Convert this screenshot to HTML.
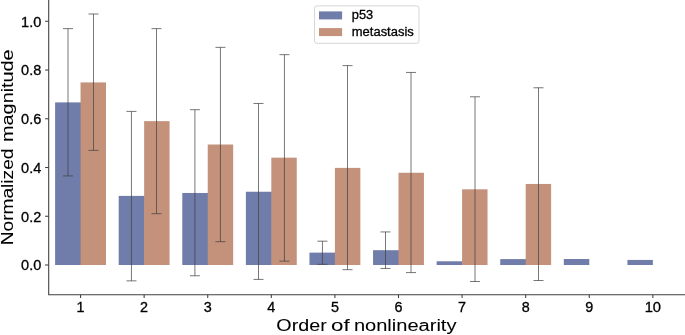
<!DOCTYPE html>
<html><head><meta charset="utf-8"><title>chart</title>
<style>html,body{margin:0;padding:0;background:#fff;}body{width:685px;height:335px;overflow:hidden;}svg{display:block;will-change:transform;}text{font-family:"Liberation Sans",sans-serif;fill:#000;stroke:#000;stroke-width:0.3px;}</style>
</head><body>
<svg width="685" height="335" viewBox="0 0 685 335">
<rect x="0" y="0" width="685" height="335" fill="#ffffff"/>
<g shape-rendering="auto">
<rect x="55.11" y="102.39" width="26.04" height="162.61" fill="#707ca9"/>
<rect x="118.70" y="195.89" width="26.04" height="69.11" fill="#707ca9"/>
<rect x="182.29" y="192.97" width="26.04" height="72.03" fill="#707ca9"/>
<rect x="245.88" y="191.75" width="26.04" height="73.25" fill="#707ca9"/>
<rect x="309.47" y="252.62" width="26.04" height="12.38" fill="#707ca9"/>
<rect x="373.06" y="250.19" width="26.04" height="14.81" fill="#707ca9"/>
<rect x="436.65" y="261.29" width="26.04" height="3.71" fill="#707ca9"/>
<rect x="500.24" y="259.10" width="26.04" height="5.90" fill="#707ca9"/>
<rect x="563.83" y="259.00" width="25.44" height="6.00" fill="#707ca9"/>
<rect x="627.42" y="259.93" width="25.44" height="5.07" fill="#707ca9"/>
<rect x="80.55" y="82.42" width="25.44" height="182.58" fill="#c4917b"/>
<rect x="144.14" y="121.14" width="25.44" height="143.86" fill="#c4917b"/>
<rect x="207.73" y="144.51" width="25.44" height="120.49" fill="#c4917b"/>
<rect x="271.32" y="157.66" width="25.44" height="107.34" fill="#c4917b"/>
<rect x="334.91" y="167.89" width="25.44" height="97.11" fill="#c4917b"/>
<rect x="398.50" y="172.76" width="25.44" height="92.24" fill="#c4917b"/>
<rect x="462.09" y="189.31" width="25.44" height="75.69" fill="#c4917b"/>
<rect x="525.68" y="183.96" width="25.44" height="81.04" fill="#c4917b"/>
</g>
<g stroke="#424242" stroke-width="0.72" fill="none">
<path d="M68.00 175.92V28.61M63.00 175.92H73.00M63.00 28.61H73.00"/>
<path d="M131.45 280.87V111.40M126.45 280.87H136.45M126.45 111.40H136.45"/>
<path d="M194.90 275.76V109.69M189.90 275.76H199.90M189.90 109.69H199.90"/>
<path d="M258.50 279.41V103.48M253.50 279.41H263.50M253.50 103.48H263.50"/>
<path d="M322.45 264.31V241.18M317.45 264.31H327.45M317.45 241.18H327.45"/>
<path d="M385.50 268.45V231.93M380.50 268.45H390.50M380.50 231.93H390.50"/>
<path d="M93.50 150.36V14.00M88.50 150.36H98.50M88.50 14.00H98.50"/>
<path d="M156.50 213.67V28.61M151.50 213.67H161.50M151.50 28.61H161.50"/>
<path d="M220.45 241.67V47.35M215.45 241.67H225.45M215.45 47.35H225.45"/>
<path d="M284.45 261.15V54.66M279.45 261.15H289.45M279.45 54.66H289.45"/>
<path d="M347.50 269.67V65.62M342.50 269.67H352.50M342.50 65.62H352.50"/>
<path d="M411.00 272.59V72.44M406.00 272.59H416.00M406.00 72.44H416.00"/>
<path d="M475.00 281.50V96.79M470.00 281.50H480.00M470.00 96.79H480.00"/>
<path d="M538.50 280.51V87.78M533.50 280.51H543.50M533.50 87.78H543.50"/>
</g>
<g stroke="#404040" stroke-width="1.07" fill="none">
<path d="M48.7 -2V294.7H690"/>
<path d="M80.55 294.7V298.1"/>
<path d="M144.14 294.7V298.1"/>
<path d="M207.73 294.7V298.1"/>
<path d="M271.32 294.7V298.1"/>
<path d="M334.91 294.7V298.1"/>
<path d="M398.50 294.7V298.1"/>
<path d="M462.09 294.7V298.1"/>
<path d="M525.68 294.7V298.1"/>
<path d="M589.27 294.7V298.1"/>
<path d="M652.86 294.7V298.1"/>
<path d="M45.1 265.00H48.7"/>
<path d="M45.1 216.26H48.7"/>
<path d="M45.1 167.52H48.7"/>
<path d="M45.1 118.78H48.7"/>
<path d="M45.1 70.04H48.7"/>
<path d="M45.1 21.30H48.7"/>
</g>
<rect x="314.5" y="5.9" width="104.5" height="37.4" rx="2.4" ry="2.4" fill="#ffffff" fill-opacity="0.8" stroke="#cccccc" stroke-opacity="0.8" stroke-width="1"/>
<rect x="319.0" y="11.4" width="23.1" height="8.0" fill="#707ca9"/>
<rect x="319.0" y="28.1" width="23.1" height="8.0" fill="#c4917b"/>
<g style="filter:grayscale(1)">
<g font-size="14.0">
<text x="80.55" y="311.8" text-anchor="middle" textLength="8.0" lengthAdjust="spacingAndGlyphs">1</text>
<text x="144.14" y="311.8" text-anchor="middle" textLength="8.0" lengthAdjust="spacingAndGlyphs">2</text>
<text x="207.73" y="311.8" text-anchor="middle" textLength="8.0" lengthAdjust="spacingAndGlyphs">3</text>
<text x="271.32" y="311.8" text-anchor="middle" textLength="8.0" lengthAdjust="spacingAndGlyphs">4</text>
<text x="334.91" y="311.8" text-anchor="middle" textLength="8.0" lengthAdjust="spacingAndGlyphs">5</text>
<text x="398.50" y="311.8" text-anchor="middle" textLength="8.0" lengthAdjust="spacingAndGlyphs">6</text>
<text x="462.09" y="311.8" text-anchor="middle" textLength="8.0" lengthAdjust="spacingAndGlyphs">7</text>
<text x="525.68" y="311.8" text-anchor="middle" textLength="8.0" lengthAdjust="spacingAndGlyphs">8</text>
<text x="589.27" y="311.8" text-anchor="middle" textLength="8.0" lengthAdjust="spacingAndGlyphs">9</text>
<text x="652.86" y="311.8" text-anchor="middle" textLength="16.4" lengthAdjust="spacingAndGlyphs">10</text>
<text x="41.3" y="270.45" text-anchor="end" textLength="20.2" lengthAdjust="spacingAndGlyphs">0.0</text>
<text x="41.3" y="221.71" text-anchor="end" textLength="20.2" lengthAdjust="spacingAndGlyphs">0.2</text>
<text x="41.3" y="172.97" text-anchor="end" textLength="20.2" lengthAdjust="spacingAndGlyphs">0.4</text>
<text x="41.3" y="124.23" text-anchor="end" textLength="20.2" lengthAdjust="spacingAndGlyphs">0.6</text>
<text x="41.3" y="75.49" text-anchor="end" textLength="20.2" lengthAdjust="spacingAndGlyphs">0.8</text>
<text x="41.3" y="26.75" text-anchor="end" textLength="20.2" lengthAdjust="spacingAndGlyphs">1.0</text>
</g>
<text style="stroke-width:0.06px" x="276.3" y="331.3" font-size="17.25" textLength="50.4" lengthAdjust="spacingAndGlyphs">Order</text>
<text style="stroke-width:0.06px" x="331.0" y="331.3" font-size="17.25" textLength="18.6" lengthAdjust="spacingAndGlyphs">of</text>
<text style="stroke-width:0.06px" x="353.9" y="331.3" font-size="17.25" textLength="102.6" lengthAdjust="spacingAndGlyphs">nonlinearity</text>
<text style="stroke-width:0.06px" transform="translate(13.3 245.2) rotate(-90)" font-size="17.25" textLength="96.6" lengthAdjust="spacingAndGlyphs">Normalized</text>
<text style="stroke-width:0.06px" transform="translate(13.3 141.9) rotate(-90)" font-size="17.25" textLength="92.5" lengthAdjust="spacingAndGlyphs">magnitude</text>
<text x="351.8" y="19.3" font-size="12.3" textLength="21.4" lengthAdjust="spacingAndGlyphs">p53</text>
<text x="351.8" y="36.0" font-size="12.3" textLength="62.0" lengthAdjust="spacingAndGlyphs">metastasis</text>
</g>
</svg>
</body></html>
